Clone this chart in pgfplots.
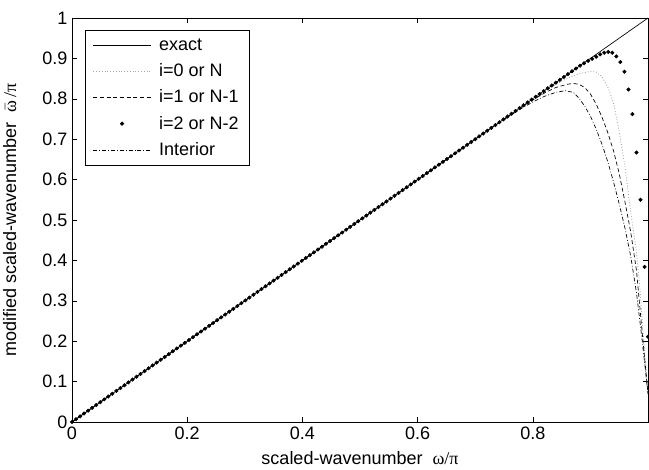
\documentclass[border=0pt]{standalone}
\usepackage{pgfplots}
\pgfplotsset{compat=1.18}
\usepackage{pgfplotstable}
\usepackage{fontspec}
\setmainfont{Liberation Sans}
\newfontfamily\grk{Liberation Serif}

\pgfplotsset{
  linelegend/.style={legend image code/.code={\draw[##1] (0pt,0pt) -- (43pt,0pt); \path (47pt,0pt);}},
  dotlegend/.style={legend image code/.code={\draw[##1] plot coordinates {(21.5pt,0pt)}; \path (0pt,0pt) (47pt,0pt);}},
}

% exact dispersion relation
\pgfplotstableread{
w wm
0 0
1 1
}\exact

% boundary scheme, node i=0 or N
\pgfplotstableread{
w wm
0 0
0.800 0.800
0.820 0.819
0.840 0.836
0.860 0.851
0.880 0.862
0.900 0.868
0.910 0.866
0.920 0.855
0.930 0.830
0.940 0.790
0.950 0.720
0.960 0.632
0.970 0.520
0.980 0.420
0.986 0.330
0.990 0.250
1.000 0.070
}\izero

% boundary scheme, node i=1 or N-1
\pgfplotstableread{
w wm
0 0
0.750 0.750
0.780 0.779
0.800 0.797
0.820 0.814
0.840 0.828
0.860 0.836
0.870 0.838
0.880 0.836
0.890 0.828
0.900 0.812
0.910 0.787
0.920 0.755
0.930 0.717
0.940 0.672
0.950 0.615
0.960 0.545
0.970 0.470
0.980 0.375
0.990 0.220
1.000 0.070
}\ione

% interior scheme
\pgfplotstableread{
w wm
0 0
0.720 0.720
0.760 0.758
0.780 0.776
0.800 0.792
0.820 0.806
0.840 0.816
0.856 0.820
0.870 0.816
0.880 0.802
0.890 0.782
0.900 0.757
0.910 0.725
0.920 0.688
0.930 0.645
0.940 0.595
0.950 0.540
0.960 0.480
0.970 0.410
0.980 0.320
0.990 0.200
1.000 0.070
}\interior

% boundary scheme, node i=2 or N-2 (plotted as dots)
\pgfplotstableread{
w wm
0.000 0.000
0.007 0.007
0.014 0.014
0.021 0.021
0.028 0.028
0.035 0.035
0.042 0.042
0.049 0.049
0.056 0.056
0.063 0.063
0.070 0.070
0.077 0.077
0.084 0.084
0.091 0.091
0.098 0.098
0.105 0.105
0.112 0.112
0.119 0.119
0.126 0.126
0.133 0.133
0.140 0.140
0.147 0.147
0.154 0.154
0.161 0.161
0.168 0.168
0.175 0.175
0.182 0.182
0.189 0.189
0.196 0.196
0.203 0.203
0.210 0.210
0.217 0.217
0.224 0.224
0.231 0.231
0.238 0.238
0.245 0.245
0.252 0.252
0.259 0.259
0.266 0.266
0.273 0.273
0.280 0.280
0.287 0.287
0.294 0.294
0.301 0.301
0.308 0.308
0.315 0.315
0.322 0.322
0.329 0.329
0.336 0.336
0.343 0.343
0.350 0.350
0.357 0.357
0.364 0.364
0.371 0.371
0.378 0.378
0.385 0.385
0.392 0.392
0.399 0.399
0.406 0.406
0.413 0.413
0.420 0.420
0.427 0.427
0.434 0.434
0.441 0.441
0.448 0.448
0.455 0.455
0.462 0.462
0.469 0.469
0.476 0.476
0.483 0.483
0.490 0.490
0.497 0.497
0.504 0.504
0.511 0.511
0.518 0.518
0.525 0.525
0.532 0.532
0.539 0.539
0.546 0.546
0.553 0.553
0.560 0.560
0.567 0.567
0.574 0.574
0.581 0.581
0.588 0.588
0.595 0.595
0.602 0.602
0.609 0.609
0.616 0.616
0.623 0.623
0.630 0.630
0.637 0.637
0.644 0.644
0.651 0.651
0.658 0.658
0.665 0.665
0.672 0.672
0.679 0.679
0.686 0.686
0.693 0.693
0.700 0.700
0.707 0.707
0.714 0.714
0.721 0.721
0.728 0.728
0.735 0.735
0.742 0.742
0.749 0.749
0.756 0.756
0.763 0.763
0.770 0.770
0.777 0.777
0.784 0.784
0.791 0.791
0.798 0.798
0.805 0.805
0.812 0.812
0.819 0.819
0.826 0.826
0.833 0.833
0.840 0.840
0.847 0.847
0.854 0.854
0.861 0.861
0.868 0.868
0.875 0.875
0.882 0.882
0.889 0.888
0.896 0.894
0.903 0.899
0.910 0.904
0.917 0.910
0.924 0.914
0.931 0.916
0.938 0.914
0.945 0.905
0.952 0.891
0.959 0.867
0.966 0.823
0.973 0.762
0.980 0.667
0.987 0.550
0.994 0.384
1.000 0.211
}\itwo

\begin{document}
\begin{tikzpicture}
\begin{axis}[
  at={(0,0)}, anchor=south west,
  scale only axis, width=432pt, height=303pt,
  xmin=0, xmax=1, ymin=0, ymax=1,
  xtick={0,0.2,0.4,0.6,0.8},
  ytick={0,0.1,0.2,0.3,0.4,0.5,0.6,0.7,0.8,0.9,1},
  tick align=inside, major tick length=4pt,
  tick style={black, line width=0.4pt},
  axis line style={line width=0.5pt},
  /pgf/number format/assume math mode=true,
  ticklabel style={font=\fontsize{13.5}{15}\selectfont},
  xlabel={scaled-wavenumber\ \ {\grk ω/π}},
  ylabel={modified scaled-wavenumber\ \ $\bar{\hbox{\grk ω}}$\,{\grk /π}},
  label style={font=\fontsize{13.5}{15}\selectfont},
  xlabel style={at={(axis description cs:0.5,-0.090)}, anchor=center},
  ylabel style={at={(axis description cs:-0.108,0.5)}, anchor=center, rotate=0},
  legend cell align=left,
  linelegend,
  legend style={at={(0.022,0.97)}, anchor=north west, draw=black,
    line width=0.5pt, font=\fontsize{13.5}{15}\selectfont,
    inner xsep=6pt, inner ysep=4pt, row sep=4.5pt},
]
\addplot[black, line width=0.5pt] table[x=w, y=wm] {\exact};
\addlegendentry{exact}
\addplot[gray!70, line width=0.6pt, dash pattern=on 0.7pt off 1.4pt] table[x=w, y=wm] {\izero};
\addlegendentry{i=0 or N}
\addplot[black, line width=0.5pt, dash pattern=on 3pt off 2pt] table[x=w, y=wm] {\ione};
\addlegendentry{i=1 or N-1}
\addplot[black, only marks, mark=*, mark size=1.3pt, dotlegend] table[x=w, y=wm] {\itwo};
\addlegendentry{i=2 or N-2}
\addplot[black, line width=0.5pt, dash pattern=on 3pt off 1.5pt on 0.6pt off 1.5pt] table[x=w, y=wm] {\interior};
\addlegendentry{Interior}
\end{axis}
\pgfresetboundingbox
\path[use as bounding box] (-54pt,-36pt) rectangle (432.75pt,316.5pt);
\end{tikzpicture}
\end{document}
